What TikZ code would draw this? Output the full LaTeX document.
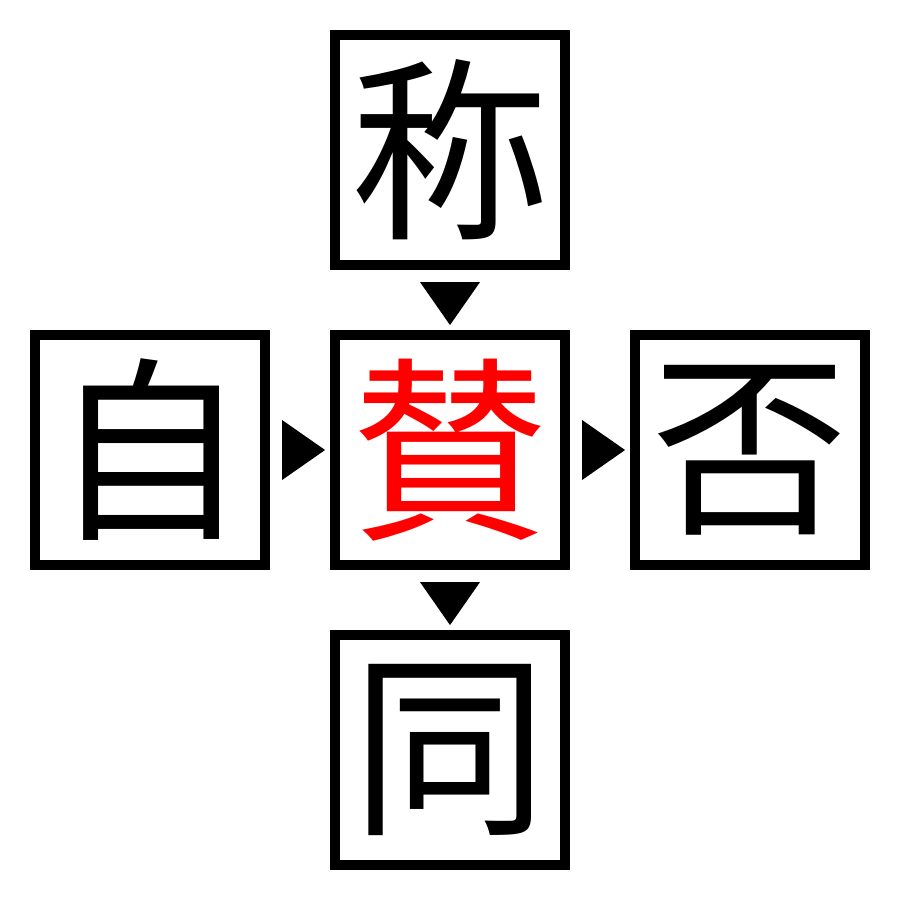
\documentclass[tikz,border=0pt]{standalone}
\usepackage{fontspec}
\usetikzlibrary{calc}
\newfontfamily\cjk{Noto Sans CJK JP}
\begin{document}
\begin{tikzpicture}[x=0.01cm,y=-0.01cm,
  cell/.style={draw=black,line width=0.1cm,minimum size=2.3cm,inner sep=0pt,
    font=\cjk\fontsize{56}{56}\selectfont},
  marker/.style={fill=black}]
\useasboundingbox (0,0) rectangle (900,900);
\node[cell] (top) at (450,150) {称};
\node[cell] (left) at (150,450) {自};
\node[cell,text=red] (mid) at (450,450) {賛};
\node[cell] (right) at (750,450) {否};
\node[cell] (bot) at (450,750) {同};
\fill[marker] ($(top.south)+(-30,12)$) -- ($(top.south)+(30,12)$) -- ($(top.south)+(0,55)$) -- cycle;
\fill[marker] ($(mid.south)+(-30,12)$) -- ($(mid.south)+(30,12)$) -- ($(mid.south)+(0,55)$) -- cycle;
\fill[marker] ($(left.east)+(12,-30)$) -- ($(left.east)+(12,30)$) -- ($(left.east)+(55,0)$) -- cycle;
\fill[marker] ($(mid.east)+(12,-30)$) -- ($(mid.east)+(12,30)$) -- ($(mid.east)+(55,0)$) -- cycle;
\end{tikzpicture}
\end{document}
